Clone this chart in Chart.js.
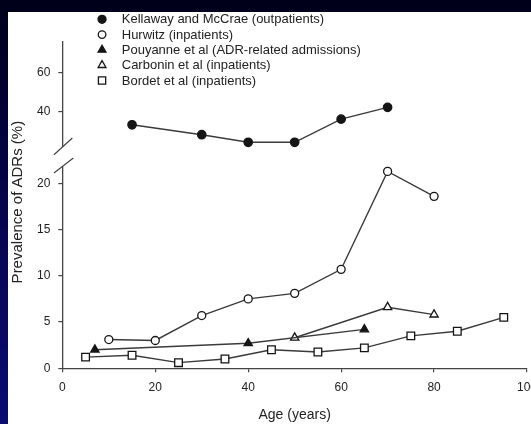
<!DOCTYPE html>
<html><head><meta charset="utf-8">
<script src="https://cdn.jsdelivr.net/npm/chart.js"></script>
<style>
html,body{margin:0;padding:0;width:531px;height:424px;overflow:hidden;}
body{position:relative;background:linear-gradient(to bottom,#00001a 0%,#02023a 30%,#07075a 65%,#0b0b72 100%);}
#wrap{position:absolute;left:8px;top:12px;width:540px;height:412px;background:#fff;}
canvas{display:block;}
</style></head><body>
<div id="wrap"><canvas id="c" width="540" height="412"></canvas></div>
<script>
// ---- data ----
const seriesLabels = [
  'Kellaway and McCrae (outpatients)',
  'Hurwitz (inpatients)',
  'Pouyanne et al (ADR-related admissions)',
  'Carbonin et al (inpatients)',
  'Bordet et al (inpatients)'
];
const kellawayAge = [15, 30, 40, 50, 60, 70];
const kellawayPct = [33.4, 28.3, 24.4, 24.4, 36.3, 42.4];
const hurwitzAge = [10, 20, 30, 40, 50, 60, 70, 80];
const hurwitzPct = [3.1, 3.0, 5.7, 7.5, 8.1, 10.7, 21.3, 18.6];
const pouyanneAge = [7, 40, 65];
const pouyannePct = [2.0, 2.7, 4.2];
const carboninAge = [50, 70, 80];
const carboninPct = [3.3, 6.6, 5.8];
const bordetAge = [5, 15, 25, 35, 45, 55, 65, 75, 85, 95];
const bordetPct = [1.2, 1.4, 0.6, 1.0, 2.0, 1.75, 2.2, 3.5, 4.0, 5.5];
const xTicks = [0, 20, 40, 60, 80, 100];
const upperTicks = [40, 60];
const lowerTicks = [0, 5, 10, 15, 20];

const FONT = "'Liberation Sans', Arial, Helvetica, sans-serif";
const LINE = '#3a3a3a';
const INK = '#151515';

function pts(ages, vals) { return ages.map((a, i) => ({x: a, y: vals[i]})); }

function ds(label, data, style, filled, r, axis) {
  return {
    label, data, yAxisID: axis || 'y',
    showLine: true, tension: 0, fill: false,
    borderColor: LINE, borderWidth: 1.4,
    pointStyle: style, pointRadius: r, pointHoverRadius: r,
    pointBackgroundColor: filled ? INK : '#ffffff',
    pointBorderColor: INK, pointBorderWidth: 1.3
  };
}

const datasets = [
  ds(seriesLabels[0], pts(kellawayAge, kellawayPct), 'circle', true, 4.2, 'yTop'),
  ds(seriesLabels[1], pts(hurwitzAge, hurwitzPct), 'circle', false, 4.0),
  ds(seriesLabels[2], pts(pouyanneAge, pouyannePct), 'triangle', true, 4.8),
  ds(seriesLabels[3], pts(carboninAge, carboninPct), 'triangle', false, 4.8),
  ds(seriesLabels[4], pts(bordetAge, bordetPct), 'rect', false, 5.4)
];

function drawMarker(ctx, style, r, x, y, fill, stroke, bw) {
  ctx.beginPath();
  if (style === 'circle') {
    ctx.arc(x, y, r, 0, Math.PI * 2);
  } else if (style === 'triangle') {
    let a = 0;
    ctx.moveTo(x + Math.sin(a) * r, y - Math.cos(a) * r);
    a += 2 * Math.PI / 3;
    ctx.lineTo(x + Math.sin(a) * r, y - Math.cos(a) * r);
    a += 2 * Math.PI / 3;
    ctx.lineTo(x + Math.sin(a) * r, y - Math.cos(a) * r);
    ctx.closePath();
  } else {
    const s = Math.SQRT1_2 * r;
    ctx.rect(x - s, y - s, 2 * s, 2 * s);
  }
  ctx.fillStyle = fill; ctx.fill();
  ctx.lineWidth = bw; ctx.strokeStyle = stroke; ctx.stroke();
}

const extras = {
  id: 'extras',
  afterDraw(chart) {
    const ctx = chart.ctx, ca = chart.chartArea;
    const ax = ca.left, cut = chart.scales.yTop.bottom;
    ctx.save();
    // axis break
    ctx.fillStyle = '#ffffff';
    ctx.fillRect(ax - 3, cut - 8.6, 6, 19.4);
    ctx.strokeStyle = '#444'; ctx.lineWidth = 1.2;
    ctx.beginPath();
    ctx.moveTo(ax - 8.4, cut - 1); ctx.lineTo(ax + 10, cut - 17.7);
    ctx.moveTo(ax - 8.4, cut + 17.3); ctx.lineTo(ax + 11, cut + 2.3);
    ctx.stroke();
    // y axis title
    ctx.save();
    ctx.translate(ca.left - 44.5, (ca.top + ca.bottom) / 2 - 3);
    ctx.rotate(-Math.PI / 2);
    ctx.font = '15px ' + FONT; ctx.fillStyle = '#222';
    ctx.textAlign = 'center'; ctx.textBaseline = 'middle';
    ctx.fillText('Prevalence of ADRs (%)', 0, 0);
    ctx.restore();
    // legend
    ctx.font = '13px ' + FONT; ctx.textAlign = 'left'; ctx.textBaseline = 'middle';
    chart.data.datasets.forEach((d, i) => {
      const cy = ca.top - 22.7 + i * 15.3;
      const cx = ca.left + 39.7;
      drawMarker(ctx, d.pointStyle, d.pointRadius * 0.95, cx, cy, d.pointBackgroundColor, d.pointBorderColor, 1.3);
      ctx.fillStyle = '#222';
      ctx.fillText(d.label, ca.left + 59.4, cy + 0.5);
    });
    ctx.restore();
  }
};

const tickFont = {family: FONT, size: 12};
const gridOpts = {drawOnChartArea: false, drawTicks: true, tickLength: 4, color: '#444', lineWidth: 1.2};
const borderOpts = {color: '#444', width: 1.3};

new Chart(document.getElementById('c'), {
  type: 'scatter',
  data: {datasets},
  options: {
    responsive: false, animation: false, devicePixelRatio: 1,
    layout: {padding: {left: 21, top: 30, right: 21, bottom: 0}},
    plugins: {legend: {display: false}, tooltip: {enabled: false}},
    scales: {
      x: {
        type: 'linear', min: 0, max: 100,
        afterBuildTicks: s => { s.ticks = xTicks.map(v => ({value: v})); },
        ticks: {color: '#222', font: tickFont, padding: 8.5},
        grid: gridOpts, border: borderOpts,
        title: {display: true, text: 'Age (years)', color: '#222', font: {family: FONT, size: 14}, padding: {top: 3.6, bottom: 0}}
      },
      yTop: {
        type: 'linear', position: 'left', stack: 'yb', stackWeight: 113.6, weight: 1,
        min: 17.5, max: 76,
        afterBuildTicks: s => { s.ticks = upperTicks.map(v => ({value: v})); },
        ticks: {color: '#222', font: tickFont, padding: 8},
        grid: gridOpts, border: borderOpts
      },
      y: {
        type: 'linear', position: 'left', stack: 'yb', stackWeight: 212.3, weight: 0,
        min: 0, max: 23,
        afterBuildTicks: s => { s.ticks = lowerTicks.map(v => ({value: v})); },
        ticks: {color: '#222', font: tickFont, padding: 8},
        grid: gridOpts, border: borderOpts
      }
    }
  },
  plugins: [extras]
});
</script>
</body></html>
